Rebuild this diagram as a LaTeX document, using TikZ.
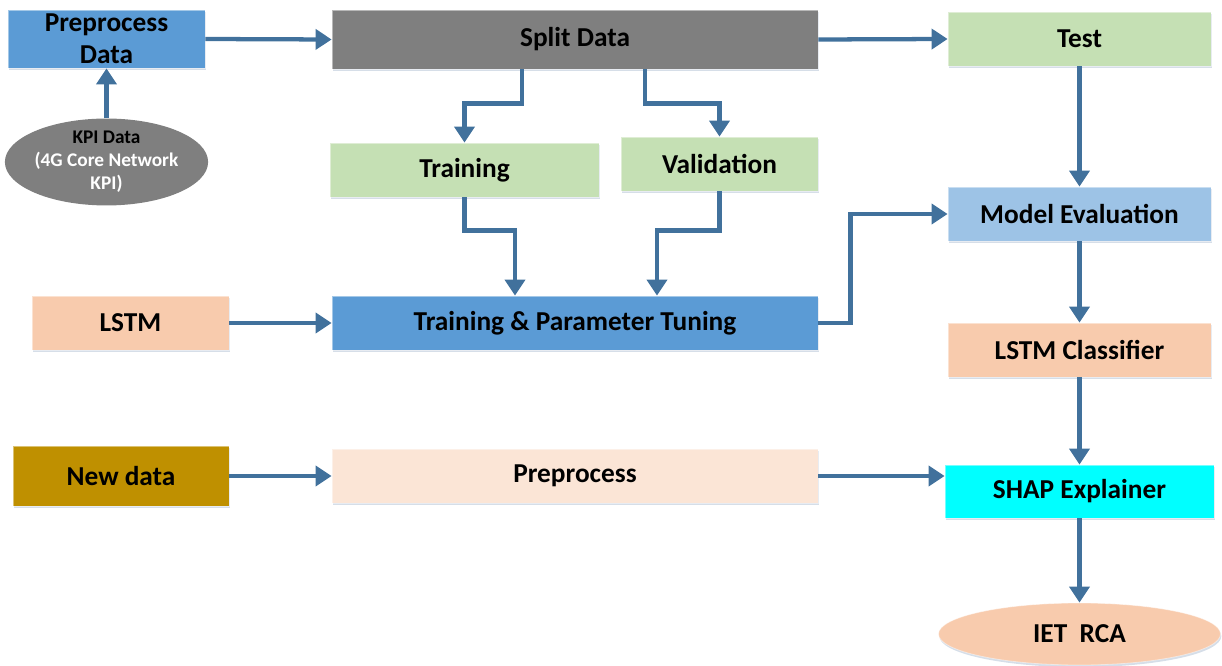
\documentclass[tikz,border=0pt]{standalone}
\usepackage{fontspec}
\setmainfont{Carlito}
\usetikzlibrary{arrows.meta,shapes.geometric,shadows}
\definecolor{cblue}{HTML}{5B9BD5}
\definecolor{cgray}{HTML}{7F7F7F}
\definecolor{cgreen}{HTML}{C5E0B4}
\definecolor{clblue}{HTML}{9DC3E6}
\definecolor{cpeach}{HTML}{F8CBAD}
\definecolor{cgold}{HTML}{BF9000}
\definecolor{clpeach}{HTML}{FBE5D6}
\definecolor{ccyan}{HTML}{00FFFF}
\definecolor{carrow}{HTML}{41719C}
\definecolor{cshadow}{HTML}{B4C3D6}
\begin{document}
\begin{tikzpicture}[x=0.75pt,y=-0.75pt,
  shd/.style={drop shadow={shadow xshift=0.6pt,shadow yshift=-1.6pt,fill=cshadow,opacity=0.55}},
  bx/.style={rectangle,draw=white,draw opacity=0.45,line width=0.6pt,inner sep=0pt,
    font=\fontsize{20.5}{24}\selectfont\bfseries,align=center,text=black,shd},
  oval/.style={ellipse,inner sep=0pt,align=center},
  arr/.style={draw=carrow,line width=3.2pt,-{Triangle[width=15pt,length=12pt]}}]
\useasboundingbox (0,0) rectangle (1222,666);
% nodes
\node[bx,fill=cblue,minimum width=147.75pt,minimum height=43.5pt] (ppd) at (106.5,39) {Preprocess\\Data};
\node[bx,fill=cgray,minimum width=364.5pt,minimum height=44.25pt] (split) at (575,39.5) {Split Data};
\node[bx,fill=cgreen,minimum width=197.25pt,minimum height=40.5pt] (test) at (1079.5,39) {Test};
\node[oval,fill=cgray,minimum width=147.75pt,minimum height=52.5pt,
  font=\fontsize{14.5}{17.25}\selectfont\bfseries] (kpi) at (106.5,162)
  {\textcolor{black}{KPI Data}\\\textcolor{white}{(4G Core Network}\\\textcolor{white}{KPI)}};
\node[bx,fill=cgreen,minimum width=201.75pt,minimum height=40.5pt] (train) at (464.5,170) {Training};
\node[bx,fill=cgreen,minimum width=147.75pt,minimum height=40.5pt] (valid) at (719.5,164) {Validation};
\node[bx,fill=clblue,minimum width=197.25pt,minimum height=40.5pt] (meval) at (1079.5,214) {Model Evaluation};
\node[bx,fill=cpeach,minimum width=147.75pt,minimum height=40.5pt] (lstm) at (130.5,323) {LSTM};
\node[bx,fill=cblue,minimum width=364.5pt,minimum height=40.5pt] (tpt) at (575,323) {Training \& Parameter Tuning};
\node[bx,fill=cpeach,minimum width=197.25pt,minimum height=40.5pt] (lstmc) at (1079.5,350) {LSTM Classifier};
\node[bx,fill=cgold,minimum width=162pt,minimum height=45pt] (newd) at (121,476) {New data};
\node[bx,fill=clpeach,minimum width=364.5pt,minimum height=40.5pt] (prep) at (575,476) {Preprocess};
\node[bx,fill=ccyan,minimum width=201.75pt,minimum height=39.75pt] (shap) at (1079.5,491.5) {SHAP Explainer};
\node[bx,oval,fill=cpeach,minimum width=211.5pt,minimum height=46.5pt] (iet) at (1079.5,634) {IET\ \ RCA};
% connectors
\draw[arr] (ppd.east) -- (split.west);
\draw[arr] (split.east) -- (test.west);
\draw[arr] (kpi.north) -- (ppd.south);
\draw[arr] (split.south -| 522,0) -- ++(0,34) -| (train.north);
\draw[arr] (split.south -| 645,0) -- ++(0,34) -| (valid.north);
\draw[arr] (train.south) -- ++(0,33) -| (tpt.north -| 515,0);
\draw[arr] (valid.south) -- ++(0,39) -| (tpt.north -| 657,0);
\draw[arr] (tpt.east) -- ++(32,0) |- (meval.west);
\draw[arr] (lstm.east) -- (tpt.west);
\draw[arr] (test.south) -- (meval.north);
\draw[arr] (meval.south) -- (lstmc.north);
\draw[arr] (lstmc.south) -- (shap.north);
\draw[arr] (shap.south) -- (iet.north);
\draw[arr] (newd.east) -- (prep.west);
\draw[arr] (prep.east) -- (prep.east -| shap.west);
\end{tikzpicture}
\end{document}
